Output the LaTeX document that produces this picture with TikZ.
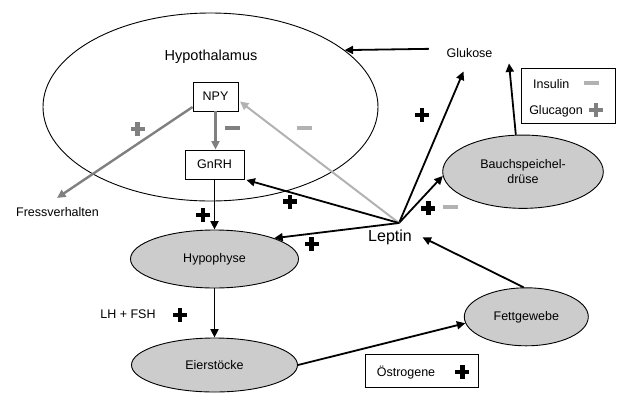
\documentclass[tikz,border=0pt]{standalone}
\usepackage{fontspec}
\setmainfont{Liberation Sans}
\usetikzlibrary{shapes.geometric,arrows.meta}
\definecolor{dgray}{gray}{0.5}
\definecolor{lgray}{gray}{0.7}
\definecolor{fillg}{gray}{0.8}
\begin{document}
\begin{tikzpicture}[x=1pt,y=-1pt,
  txt/.style={font=\fontsize{12.5}{14.4}\selectfont, inner sep=0pt, outer sep=0pt},
  oval/.style={ellipse, draw, line width=0.9pt, fill=fillg, inner sep=0pt, align=center,
    font=\fontsize{12.5}{14.4}\selectfont},
  box/.style={draw, line width=0.9pt, inner sep=0pt, font=\fontsize{12.5}{14.4}\selectfont},
  arr/.style={line width=1.8pt, -{Triangle[length=8.5pt,width=8pt]}},
  garr/.style={arr, draw=dgray, fill=dgray, line width=2.4pt},
  larr/.style={arr, draw=lgray, fill=lgray, line width=2pt},
  pl/.pic={\fill (-7,-2.2) rectangle (7,2.2); \fill (-2.2,-7) rectangle (2.2,7);},
  mi/.pic={\fill (-7.5,-2) rectangle (7.5,2);}
]
\useasboundingbox (0,0) rectangle (623,392);

% nodes
\node[ellipse, draw, line width=0.9pt, minimum width=335pt, minimum height=188pt, inner sep=0pt] (hyp) at (210.5,107) {};
\node[txt, font=\fontsize{14.5}{16}\selectfont, anchor=base] (hyptxt) at (211,60) {Hypothalamus};
\node[box, minimum width=45pt, minimum height=29pt] (npy) at (215.5,96.5) {NPY};
\node[box, minimum width=59pt, minimum height=29pt] (gnrh) at (214.5,164.5) {GnRH};
\node[txt, anchor=base] (fress) at (57.5,216) {Fressverhalten};
\node[txt, anchor=base] (glu) at (469.5,57.3) {Glukose};
\node[box, minimum width=94pt, minimum height=55pt] (leg) at (568.8,95.8) {};
\node[txt, anchor=base] (ins) at (551.3,88.3) {Insulin};
\node[txt, anchor=base] (gluc) at (556,114.3) {Glucagon};
\node[oval, minimum width=160.6pt, minimum height=73.3pt] (bauch) at (523,171.7) {Bauchspeichel-\\drüse};
\coordinate (hub) at (399,223);
\node[txt, font=\fontsize{16}{18}\selectfont, anchor=base] (lep) at (390,241.7) {Leptin};
\node[oval, minimum width=168pt, minimum height=58pt] (hypo) at (214.5,259) {Hypophyse};
\node[txt, anchor=base] (lhfsh) at (128,318) {LH + FSH};
\node[oval, minimum width=166pt, minimum height=54pt] (eier) at (214.5,365) {Eierstöcke};
\node[oval, minimum width=124pt, minimum height=58pt] (fett) at (526.3,316.8) {Fettgewebe};
\node[box, minimum width=112.6pt, minimum height=33.3pt] (oes) at (422,370.7) {};
\node[txt, anchor=base] (oestxt) at (406,376) {Östrogene};

% connectors
\draw[arr] ([shift={(-17.7,-4)}]glu.west) -- (hyp.23.8);
\draw[arr] (hub) -- ([shift={(-6,14)}]glu.south);
\draw[arr] (bauch.101) -- ([shift={(39.5,6)}]glu.south);
\draw[arr] (hub) -- (bauch.183.6);
\draw[larr] (hub) -- ([shift={(1.5,5)}]npy.east);
\draw[arr] (hub) -- ([shift={(2,0.5)}]gnrh.south east);
\draw[arr] (hub) -- (hypo.north east);
\draw[arr] (fett.95) -- ([shift={(10.7,-4.4)}]lep.base east);
\draw[arr] (eier.east) -- (fett.186);
\draw[garr] ([shift={(0,10.5)}]npy.west) -- ([shift={(-0.5,-9)}]fress.north);
\draw[garr] (npy.south) -- (npy.south |- gnrh.north);
\draw[arr] (hypo.north |- gnrh.south) -- (hypo.north);
\draw[arr] (hypo.south) -- (eier.north);

% signs
\pic[dgray] at (137.5,129) {pl};
\pic[dgray] at (232.5,128.3) {mi};
\pic[lgray] at (304,128) {mi};
\pic[black] at (421.7,115) {pl};
\pic[black] at (203,215) {pl};
\pic[black] at (290,201.5) {pl};
\pic[black] at (311.5,244) {pl};
\pic[black] at (428.3,208.3) {pl};
\pic[lgray] at (450,207.3) {mi};
\pic[black] at (180,315) {pl};
\pic[black] at (462.3,371.7) {pl};
\pic[lgray] at (591,83.3) {mi};
\pic[dgray] at (595.7,110) {pl};
\end{tikzpicture}
\end{document}
